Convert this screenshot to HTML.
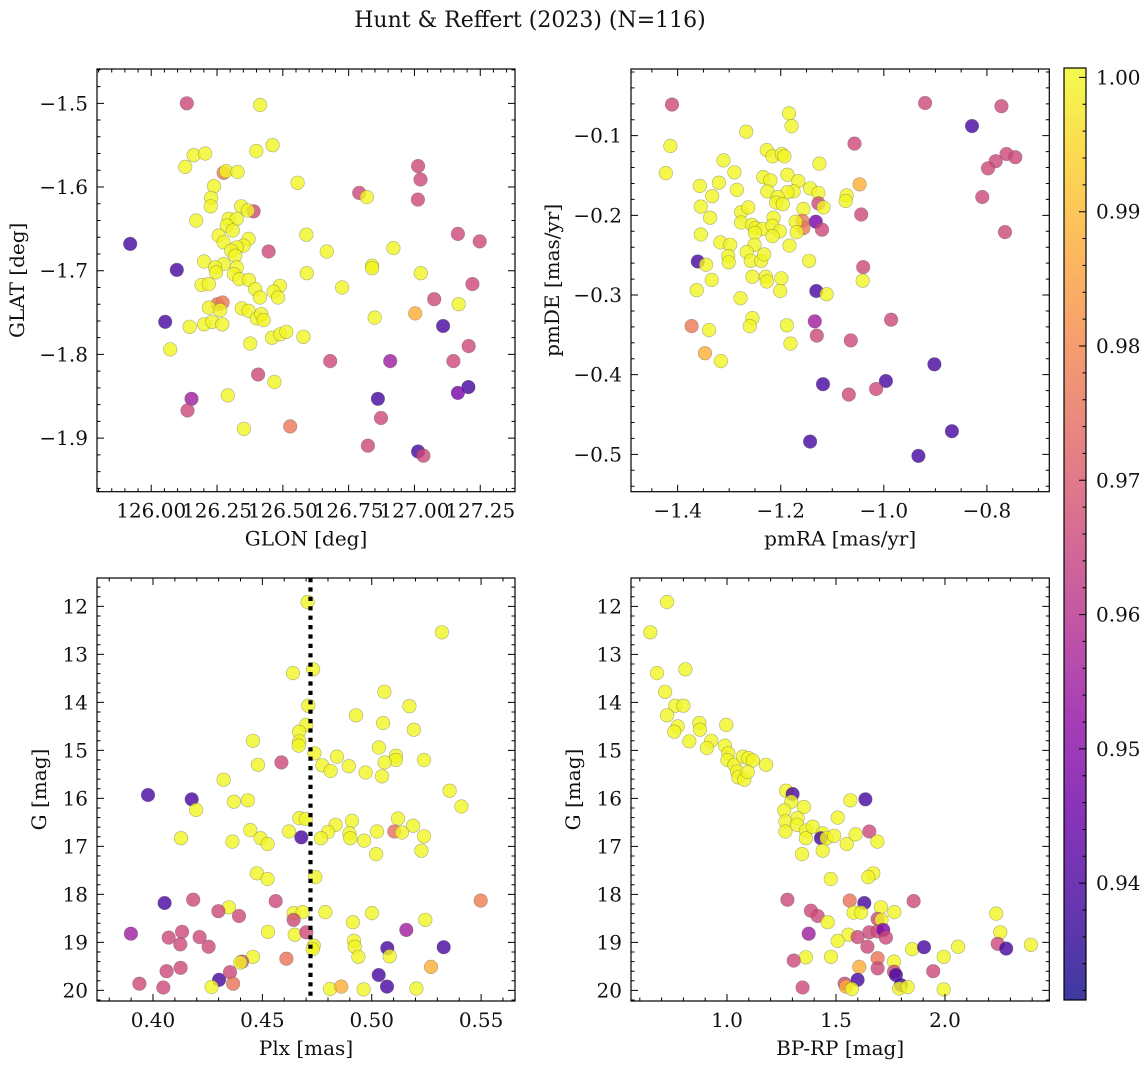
<!DOCTYPE html>
<html><head><meta charset="utf-8"><style>
html,body{margin:0;padding:0;background:#fff;}
svg text{font-family:"DejaVu Serif","Liberation Serif",serif;fill:#111;}
</style></head><body>
<svg id="fig" width="1148" height="1068" viewBox="0 0 1148 1068" xmlns="http://www.w3.org/2000/svg">
<text x="530" y="27" font-size="22" text-anchor="middle">Hunt &amp; Reffert (2023) (N=116)</text>
</svg>
<script>
// ---------- Panel 1: GLON / GLAT ----------
const p1Lon=[126.135,126.414,126.461,126.399,126.161,126.205,126.129,126.275,126.284,126.328,126.556,126.239,126.228,126.226,126.342,126.389,126.367,126.171,126.294,126.325,126.287,126.310,126.256,126.275,126.370,126.351,126.325,126.304,126.319,126.589,125.920,126.446,126.667,126.920,126.201,126.275,126.243,126.246,126.325,126.314,126.335,126.097,126.591,126.839,126.839,127.024,126.371,126.191,126.219,126.395,126.489,126.465,126.413,126.482,126.725,127.220,127.165,127.248,127.014,127.023,127.013,126.790,126.819,127.075,127.168,127.003,127.109,126.849,126.252,126.271,126.219,126.262,126.344,126.370,126.401,126.418,126.427,126.053,126.146,126.201,126.232,126.270,126.072,126.376,126.459,126.490,126.513,126.578,126.680,126.908,127.148,127.206,126.406,126.468,127.205,127.165,126.861,126.153,126.291,126.138,126.873,126.528,126.352,126.823,127.014,127.034];
const p1Lat=[-1.500,-1.502,-1.550,-1.557,-1.562,-1.560,-1.576,-1.583,-1.581,-1.582,-1.595,-1.599,-1.613,-1.623,-1.623,-1.629,-1.628,-1.640,-1.638,-1.638,-1.646,-1.652,-1.658,-1.666,-1.662,-1.670,-1.672,-1.676,-1.682,-1.657,-1.668,-1.677,-1.677,-1.673,-1.689,-1.692,-1.696,-1.702,-1.696,-1.704,-1.710,-1.699,-1.703,-1.694,-1.697,-1.703,-1.711,-1.717,-1.716,-1.722,-1.718,-1.725,-1.732,-1.732,-1.720,-1.716,-1.656,-1.665,-1.575,-1.591,-1.615,-1.607,-1.612,-1.734,-1.740,-1.751,-1.766,-1.756,-1.740,-1.738,-1.744,-1.747,-1.745,-1.748,-1.757,-1.752,-1.759,-1.761,-1.767,-1.764,-1.761,-1.764,-1.794,-1.787,-1.780,-1.776,-1.773,-1.779,-1.808,-1.808,-1.808,-1.790,-1.824,-1.833,-1.839,-1.846,-1.853,-1.853,-1.849,-1.867,-1.876,-1.886,-1.889,-1.909,-1.916,-1.921];
const p1Prob=[0.966,1,1,1,1,1,1,0.977,1,1,1,1,1,1,1,0.966,1,1,1,1,1,1,1,1,1,1,1,1,1,1,0.939,0.966,1,1,1,1,1,1,1,1,1,0.939,1,1,1,1,1,1,1,1,1,1,1,1,1,0.966,0.966,0.966,0.966,0.966,0.966,0.966,1,0.966,1,0.988,0.939,1,0.977,0.977,1,1,1,1,1,1,1,0.939,1,1,1,1,1,1,1,1,1,1,0.966,0.955,0.966,0.966,0.966,1,0.939,0.947,0.939,0.955,1,0.966,0.966,0.977,1,0.966,0.939,0.966];
const p1XTicks=[126.00,126.25,126.50,126.75,127.00,127.25];
const p1XTickLabels=["126.00","126.25","126.50","126.75","127.00","127.25"];
const p1YTicks=[-1.5,-1.6,-1.7,-1.8,-1.9];
const p1YTickLabels=["−1.5","−1.6","−1.7","−1.8","−1.9"];

// ---------- Panel 2: pmRA / pmDE ----------
const p2RA=[-1.411,-1.414,-1.423,-1.267,-1.184,-1.179,-1.227,-1.216,-1.198,-1.193,-1.311,-1.290,-1.125,-1.057,-0.920,-0.772,-0.829,-0.762,-0.745,-0.783,-0.798,-0.809,-0.765,-1.047,-1.044,-1.040,-1.041,-1.357,-1.320,-1.333,-1.285,-1.234,-1.220,-1.226,-1.187,-1.166,-1.175,-1.187,-1.143,-1.127,-1.127,-1.117,-1.156,-1.206,-1.209,-1.196,-1.072,-1.074,-1.355,-1.337,-1.277,-1.263,-1.214,-1.277,-1.256,-1.249,-1.235,-1.216,-1.202,-1.250,-1.216,-1.158,-1.156,-1.171,-1.169,-1.132,-1.120,-1.355,-1.317,-1.298,-1.251,-1.183,-1.302,-1.301,-1.266,-1.258,-1.238,-1.232,-1.361,-1.345,-1.145,-1.334,-1.255,-1.229,-1.227,-1.199,-1.201,-1.363,-1.278,-1.131,-1.111,-1.255,-1.260,-1.188,-1.181,-1.134,-1.130,-1.064,-0.986,-1.373,-1.339,-1.347,-1.316,-0.902,-0.996,-1.015,-1.068,-1.118,-1.143,-0.868,-0.933];
const p2DE=[-0.061,-0.113,-0.147,-0.095,-0.072,-0.088,-0.118,-0.126,-0.123,-0.126,-0.131,-0.146,-0.135,-0.110,-0.059,-0.063,-0.088,-0.123,-0.127,-0.132,-0.141,-0.177,-0.221,-0.161,-0.199,-0.265,-0.282,-0.163,-0.159,-0.176,-0.168,-0.152,-0.156,-0.170,-0.149,-0.157,-0.170,-0.171,-0.166,-0.172,-0.185,-0.190,-0.192,-0.177,-0.184,-0.186,-0.175,-0.182,-0.189,-0.203,-0.196,-0.190,-0.203,-0.209,-0.212,-0.216,-0.217,-0.213,-0.220,-0.222,-0.226,-0.207,-0.216,-0.208,-0.221,-0.208,-0.218,-0.224,-0.234,-0.237,-0.237,-0.238,-0.251,-0.259,-0.246,-0.257,-0.257,-0.249,-0.258,-0.262,-0.257,-0.281,-0.277,-0.277,-0.283,-0.279,-0.295,-0.294,-0.304,-0.295,-0.299,-0.329,-0.339,-0.338,-0.361,-0.333,-0.351,-0.357,-0.331,-0.339,-0.344,-0.373,-0.383,-0.387,-0.408,-0.418,-0.425,-0.412,-0.484,-0.471,-0.502];
const p2Prob=[0.966,1,1,1,1,1,1,1,1,1,1,1,1,0.966,0.966,0.966,0.939,0.966,0.966,0.966,0.966,0.966,0.966,0.988,0.966,0.966,1,1,1,1,1,1,1,1,1,1,1,1,1,1,0.966,1,1,1,1,1,1,1,1,1,1,1,1,1,1,1,1,1,1,1,1,0.977,0.977,1,1,0.947,0.966,1,1,1,1,1,1,1,1,1,1,1,0.939,1,1,1,1,1,1,1,1,1,1,0.939,1,1,1,1,1,0.955,0.966,0.966,0.966,0.977,1,0.988,1,0.939,0.939,0.966,0.966,0.939,0.939,0.939,0.939];
const p2XTicks=[-1.4,-1.2,-1.0,-0.8];
const p2XTickLabels=["−1.4","−1.2","−1.0","−0.8"];
const p2YTicks=[-0.1,-0.2,-0.3,-0.4,-0.5];
const p2YTickLabels=["−0.1","−0.2","−0.3","−0.4","−0.5"];

// ---------- Panel 3: Plx / G ----------
const p3Plx=[0.4707,0.5321,0.4640,0.4732,0.5058,0.5172,0.4710,0.4928,0.5052,0.5193,0.4701,0.4668,0.4457,0.4669,0.4666,0.4738,0.4841,0.5033,0.5111,0.5110,0.5059,0.5239,0.4587,0.4480,0.4774,0.4895,0.4812,0.4972,0.5047,0.4323,0.5356,0.5410,0.3977,0.4177,0.4197,0.4370,0.4434,0.4669,0.4698,0.4910,0.5120,0.5189,0.5103,0.5138,0.5239,0.5227,0.5020,0.5024,0.4965,0.4898,0.4902,0.4835,0.4800,0.4768,0.4678,0.4622,0.4445,0.4492,0.4524,0.4363,0.4128,0.4475,0.4524,0.4742,0.4053,0.4184,0.4561,0.5498,0.4347,0.4299,0.4393,0.4643,0.4684,0.4643,0.4788,0.5001,0.4914,0.5245,0.3899,0.4133,0.4072,0.4213,0.4125,0.4254,0.4526,0.4648,0.4701,0.4735,0.4730,0.4919,0.4922,0.4939,0.5158,0.5071,0.5082,0.5329,0.4457,0.4407,0.4399,0.4610,0.5271,0.3938,0.4047,0.4062,0.4126,0.4302,0.4352,0.4366,0.4268,0.4809,0.4861,0.4963,0.5032,0.5070,0.5204];
const p3G=[11.91,12.54,13.39,13.31,13.78,14.08,14.07,14.27,14.43,14.57,14.47,14.61,14.80,14.81,14.90,15.06,15.13,14.94,15.11,15.20,15.25,15.20,15.25,15.30,15.31,15.33,15.43,15.46,15.54,15.61,15.84,16.17,15.93,16.02,16.24,16.07,16.04,16.41,16.43,16.47,16.42,16.57,16.69,16.71,16.79,17.09,17.16,16.69,16.88,16.73,16.83,16.55,16.70,16.83,16.81,16.69,16.66,16.83,16.95,16.90,16.83,17.56,17.68,17.64,18.18,18.11,18.14,18.13,18.27,18.35,18.45,18.39,18.37,18.53,18.37,18.39,18.58,18.53,18.82,18.78,18.90,18.89,19.04,19.09,18.78,18.84,18.79,19.07,19.14,18.97,19.09,19.30,18.74,19.12,19.29,19.10,19.30,19.40,19.42,19.34,19.51,19.86,19.94,19.60,19.53,19.78,19.62,19.86,19.93,19.97,19.92,19.98,19.68,19.92,19.96];
const p3Prob=[1,1,1,1,1,1,1,1,1,1,1,1,1,1,1,1,1,1,1,1,1,1,0.966,1,1,1,1,1,1,1,1,1,0.939,0.939,1,1,1,1,1,1,1,1,0.975,1,1,1,1,1,1,1,1,1,1,1,0.939,1,1,1,1,1,1,1,1,1,0.939,0.966,0.966,0.978,1,0.966,0.966,1,1,0.966,1,1,1,1,0.955,0.966,0.966,0.966,0.966,0.966,1,1,0.966,1,1,1,1,1,0.955,0.939,1,0.939,1,0.966,1,0.976,0.988,0.966,0.966,0.966,0.966,0.939,0.966,0.976,1,1,0.988,1,0.939,0.939,1];
const p3XTicks=[0.40,0.45,0.50,0.55];
const p3XTickLabels=["0.40","0.45","0.50","0.55"];
const gTicks=[12,13,14,15,16,17,18,19,20];
const gTickLabels=["12","13","14","15","16","17","18","19","20"];
const clusterPlx=[0.472];

// ---------- Panel 4: BP-RP / G ----------
const p4Col=[0.725,0.648,0.679,0.809,0.716,0.763,0.800,0.725,0.774,0.758,0.873,0.876,0.997,0.827,0.928,0.908,0.991,1.006,1.002,1.034,1.046,1.052,1.080,1.073,1.098,1.119,1.095,1.179,1.271,1.301,1.295,1.353,1.566,1.635,1.263,1.268,1.268,1.324,1.321,1.362,1.362,1.393,1.439,1.431,1.457,1.492,1.508,1.439,1.344,1.549,1.590,1.653,1.690,1.671,1.648,1.476,1.277,1.563,1.630,1.856,1.706,1.768,1.581,1.615,1.385,1.416,1.462,1.691,1.709,2.235,2.254,1.375,1.557,1.599,1.653,1.691,1.717,1.729,1.508,1.644,1.849,1.904,2.060,2.242,2.281,2.394,1.362,1.477,1.306,1.691,1.691,1.607,1.766,1.766,1.775,1.946,1.994,1.599,1.540,1.546,1.573,1.347,1.798,1.790,1.829,1.994];
const p4G=[11.91,12.54,13.39,13.31,13.78,14.07,14.07,14.27,14.50,14.61,14.43,14.57,14.47,14.81,14.80,14.95,14.90,15.06,15.20,15.30,15.44,15.56,15.61,15.13,15.16,15.21,15.45,15.30,15.84,15.91,16.07,16.18,16.04,16.02,16.25,16.48,16.69,16.41,16.55,16.67,16.83,16.59,16.73,16.83,16.83,16.78,16.40,17.09,17.16,16.95,16.75,16.69,16.90,17.56,17.64,17.68,18.11,18.13,18.18,18.14,18.27,18.37,18.38,18.38,18.34,18.45,18.58,18.51,18.53,18.40,18.79,18.82,18.84,18.89,18.79,18.77,18.74,18.90,18.97,19.09,19.14,19.10,19.09,19.03,19.13,19.05,19.31,19.30,19.38,19.33,19.54,19.51,19.40,19.61,19.68,19.60,19.30,19.78,19.86,19.92,19.97,19.94,19.89,19.96,19.93,19.98];
const p4Prob=[1,1,1,1,1,1,1,1,1,1,1,1,1,1,1,1,1,1,1,1,1,1,1,1,1,1,1,1,1,0.939,1,1,1,0.939,1,1,1,1,1,1,1,1,1,0.939,1,1,1,1,1,1,1,0.966,1,1,1,1,0.966,0.976,0.939,0.966,1,1,1,1,0.966,0.966,1,0.966,1,1,1,0.955,1,0.966,0.966,0.966,0.947,0.966,1,0.966,1,0.939,1,0.966,0.939,1,1,1,0.966,0.976,0.966,0.988,1,0.966,0.939,0.966,1,0.939,0.966,0.988,1,0.966,0.939,1,1,1];
const p4XTicks=[1.0,1.5,2.0];
const p4XTickLabels=["1.0","1.5","2.0"];

// ---------- Colorbar ----------
const cbTicks=[1.00,0.99,0.98,0.97,0.96,0.95,0.94];
const cbTickLabels=["1.00","0.99","0.98","0.97","0.96","0.95","0.94"];
const cbDomain=[0.9313,1.0007];

const NS="http://www.w3.org/2000/svg";
const svg=document.getElementById('fig');
const FS=20;
function mk(tag,attrs,parent){const e=document.createElementNS(NS,tag);for(const k in attrs)e.setAttribute(k,attrs[k]);(parent||svg).appendChild(e);return e;}

const plasmaStops=["#0d0887","#41049d","#6a00a8","#8f0da4","#b12a90","#cc4778","#e16462","#f2844b","#fca636","#fcce25","#f0f921"];
function hex2rgb(h){return [parseInt(h.substr(1,2),16),parseInt(h.substr(3,2),16),parseInt(h.substr(5,2),16)];}
function plasma(t){t=Math.max(0,Math.min(1,t));const s=t*10;const i=Math.min(9,Math.floor(s));const f=s-i;const a=hex2rgb(plasmaStops[i]),b=hex2rgb(plasmaStops[i+1]);return 'rgb('+a.map((v,k)=>Math.round(v+(b[k]-v)*f)).join(',')+')';}
function cval(p){return plasma((p-cbDomain[0])/(cbDomain[1]-cbDomain[0]));}

function minorList(d0,d1,step){const out=[];const s=Math.ceil(Math.min(d0,d1)/step-1e-6);for(let k=s;k*step<=Math.max(d0,d1)+1e-9;k++)out.push(k*step);return out;}

function panel(cfg){
  const g=mk('g',{});
  
  
  const L=cfg.box[0],R=cfg.box[1],T=cfg.box[2],B=cfg.box[3];
  const sx=v=>L+(v-cfg.xd[0])/(cfg.xd[1]-cfg.xd[0])*(R-L);
  const sy=v=>T+(v-cfg.yd[0])/(cfg.yd[1]-cfg.yd[0])*(B-T);
  const pg=mk('g',{},g);
  
  
  for(let i=0;i<cfg.x.length;i++){
    const c=mk('circle',{cx:sx(cfg.x[i]).toFixed(1),cy:sy(cfg.y[i]).toFixed(1),r:6.8,fill:cval(cfg.c[i]),'fill-opacity':0.8,stroke:'#555','stroke-opacity':0.45,'stroke-width':0.6},pg);
    
    
  }
  if(cfg.vline){
    for(const v of cfg.vline){
      const l=mk('line',{x1:sx(v),x2:sx(v),y1:T,y2:B,stroke:'#000','stroke-width':4.2,'stroke-dasharray':'4.2 5.2'},g);
      
      
    }
  }
  const fr=mk('rect',{x:L,y:T,width:R-L,height:B-T,fill:'none',stroke:'#000','stroke-width':1.2},g);
  
  
  let d='';
  for(const v of cfg.xt){const X=sx(v);d+=`M${X},${B}v-7M${X},${T}v7`;}
  for(const v of minorList(cfg.xd[0],cfg.xd[1],cfg.xm)){const X=sx(v);if(X>L+0.5&&X<R-0.5)d+=`M${X},${B}v-3.5M${X},${T}v3.5`;}
  for(const v of cfg.yt){const Y=sy(v);d+=`M${L},${Y}h7M${R},${Y}h-7`;}
  for(const v of minorList(cfg.yd[0],cfg.yd[1],cfg.ym)){const Y=sy(v);if(Y>T+0.5&&Y<B-0.5)d+=`M${L},${Y}h3.5M${R},${Y}h-3.5`;}
  mk('path',{d:d,stroke:'#000','stroke-width':1,fill:'none'},g);
  cfg.xt.forEach((v,i)=>{const t=mk('text',{x:sx(v),y:B+26,'font-size':FS,'text-anchor':'middle'},g);t.textContent=cfg.xl[i];});
  cfg.yt.forEach((v,i)=>{const t=mk('text',{x:L-9,y:sy(v)+7,'font-size':FS,'text-anchor':'end'},g);t.textContent=cfg.yl[i];});
  const xt=mk('text',{x:(L+R)/2,y:B+54,'font-size':FS,'text-anchor':'middle'},g);xt.textContent=cfg.xtitle;
  
  
  const yx=cfg.ytx,yy=(T+B)/2;
  const yt=mk('text',{x:yx,y:yy,'font-size':FS,'text-anchor':'middle',transform:`rotate(-90 ${yx} ${yy})`},g);yt.textContent=cfg.ytitle;
  
  
}

panel({name:'glon-glat-panel',box:[97,515,69,491.7],xd:[125.794,127.382],yd:[-1.459,-1.964],x:p1Lon,y:p1Lat,c:p1Prob,xt:p1XTicks,xl:p1XTickLabels,xm:0.05,yt:p1YTicks,yl:p1YTickLabels,ym:0.02,xtitle:'GLON [deg]',ytitle:'GLAT [deg]',ytx:24});
panel({name:'propermotion-panel',box:[631,1049.3,69,491.7],xd:[-1.4905,-0.679],yd:[-0.0163,-0.5469],x:p2RA,y:p2DE,c:p2Prob,xt:p2XTicks,xl:p2XTickLabels,xm:0.05,yt:p2YTicks,yl:p2YTickLabels,ym:0.02,xtitle:'pmRA [mas/yr]',ytitle:'pmDE [mas/yr]',ytx:559});
panel({name:'parallax-mag-panel',box:[97,515,578,1001],xd:[0.3744,0.5655],yd:[11.409,20.221],x:p3Plx,y:p3G,c:p3Prob,xt:p3XTicks,xl:p3XTickLabels,xm:0.01,yt:gTicks,yl:gTickLabels,ym:0.2,xtitle:'Plx [mas]',ytitle:'G [mag]',ytx:46,vline:clusterPlx});
panel({name:'cmd-panel',box:[631,1049.3,578,1001],xd:[0.5596,2.4786],yd:[11.409,20.221],x:p4Col,y:p4G,c:p4Prob,xt:p4XTicks,xl:p4XTickLabels,xm:0.1,yt:gTicks,yl:gTickLabels,ym:0.2,xtitle:'BP-RP [mag]',ytitle:'G [mag]',ytx:580});

(function(){
  const L=1064,R=1086,T=68,B=1000;
  const g=mk('g',{});
  
  
  const defs=mk('defs',{},g);
  const lg=mk('linearGradient',{id:'cbg',x1:0,y1:1,x2:0,y2:0},defs);
  for(let i=0;i<=20;i++){mk('stop',{offset:(i/20),'stop-color':plasma(i/20)},lg);}
  mk('rect',{x:L,y:T,width:R-L,height:B-T,fill:'url(#cbg)','fill-opacity':0.8},g);
  mk('rect',{x:L,y:T,width:R-L,height:B-T,fill:'none',stroke:'#000','stroke-width':1.2},g);
  const sy=v=>B-(v-cbDomain[0])/(cbDomain[1]-cbDomain[0])*(B-T);
  let d='';
  for(const v of cbTicks){d+=`M${R},${sy(v)}h-7`;}
  for(const v of minorList(cbDomain[0],cbDomain[1],0.002)){const Y=sy(v);if(Y>T+0.5&&Y<B-0.5)d+=`M${R},${Y}h-3.5`;}
  mk('path',{d:d,stroke:'#000','stroke-width':1},g);
  cbTicks.forEach((v,i)=>{const t=mk('text',{x:R+10,y:sy(v)+7,'font-size':FS},g);t.textContent=cbTickLabels[i];});
})();
</script>
</body></html>
